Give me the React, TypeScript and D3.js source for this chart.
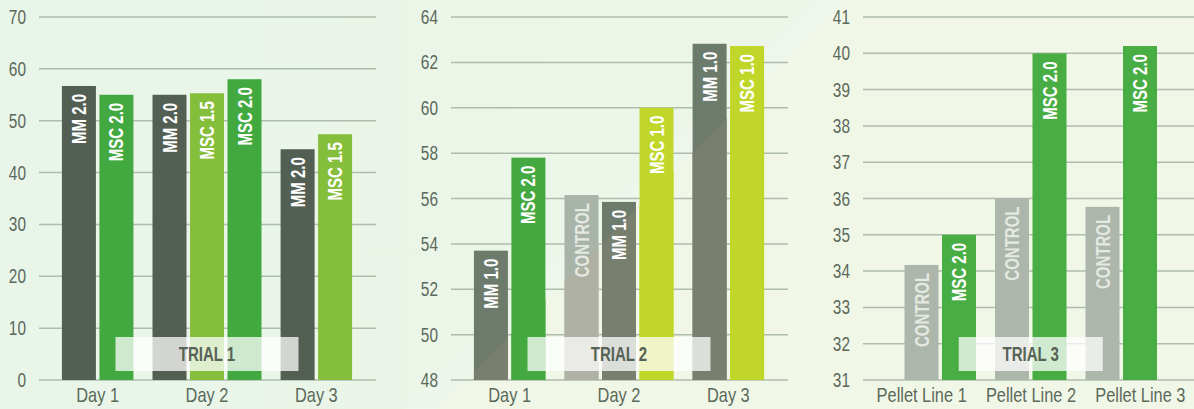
import React from "react";
import * as d3 from "d3";

// Trial 1
const trial1Groups = ["Day 1", "Day 2", "Day 3"];
const trial1Bars = [["MM 2.0", "MSC 2.0"], ["MM 2.0", "MSC 1.5", "MSC 2.0"], ["MM 2.0", "MSC 1.5"]];
const trial1Values = [[56.7, 55.0], [55.0, 55.3, 58.0], [44.5, 47.4]];
const trial1Ticks = [0, 10, 20, 30, 40, 50, 60, 70];

// Trial 2
const trial2Groups = ["Day 1", "Day 2", "Day 3"];
const trial2Bars = [["MM 1.0", "MSC 2.0"], ["CONTROL", "MM 1.0", "MSC 1.0"], ["MM 1.0", "MSC 1.0"]];
const trial2Values = [[53.7, 57.8], [56.15, 55.85, 60.0], [62.82, 62.72]];
const trial2Ticks = [48, 50, 52, 54, 56, 58, 60, 62, 64];

// Trial 3
const trial3Groups = ["Pellet Line 1", "Pellet Line 2", "Pellet Line 3"];
const trial3Bars = [["CONTROL", "MSC 2.0"], ["CONTROL", "MSC 2.0"], ["CONTROL", "MSC 2.0"]];
const trial3Values = [[34.17, 35.0], [36.0, 40.0], [35.77, 40.2]];
const trial3Ticks = [31, 32, 33, 34, 35, 36, 37, 38, 39, 40, 41];

const W = 1194;
const H = 409;
const top = 17;
const bottom = 380;
const barStep = 37.5;
const font = "'Liberation Sans', Arial, sans-serif";
// the original uses a condensed face; squeeze Liberation Sans horizontally
const squeeze = 0.79;

const panels = [
  {
    title: "TRIAL 1", groups: trial1Groups, bars: trial1Bars, values: trial1Values, ticks: trial1Ticks,
    x0: 39, x1: 376, barOff: [4, 332], boxW: 183,
    colors: { "MM 2.0": "#525f52", "MSC 2.0": "#41a93f", "MSC 1.5": "#85be3a" },
  },
  {
    title: "TRIAL 2", groups: trial2Groups, bars: trial2Bars, values: trial2Values, ticks: trial2Ticks,
    x0: 451, x1: 788, barOff: [4, 332], boxW: 183,
    colors: { "MM 1.0": "#6c7b6c", "MSC 2.0": "#43a940", "CONTROL": "#a9b4a9", "MSC 1.0": "#c0d72a" },
    tint: true,
  },
  {
    title: "TRIAL 3", groups: trial3Groups, bars: trial3Bars, values: trial3Values, ticks: trial3Ticks,
    x0: 863, x1: 1194, barOff: [32, 303.5], boxW: 144,
    colors: { "CONTROL": "#adb6ab", "MSC 2.0": "#48ad43" },
  },
];

const tintColor = (c: string) => d3.interpolateRgb(c, "#d09c80")(0.13);

function Txt({ x, y, rotate = 0, sx = squeeze, children, ...rest }: any) {
  return (
    <g transform={`translate(${x},${y}) rotate(${rotate}) scale(${sx},1)`}>
      <text fontFamily={font} {...rest}>{children}</text>
    </g>
  );
}

function Panel({ p }: { p: any }) {
  const y = d3.scaleLinear().domain([p.ticks[0], p.ticks[p.ticks.length - 1]]).range([bottom, top]);
  const xLabel = d3.scaleBand().domain(p.groups).range([p.x0 + 4, p.x0 + 332]);
  const xGroup = d3.scaleBand().domain(p.groups).range([p.x0 + p.barOff[0], p.x0 + p.barOff[1]]);

  const rects: any[] = [];
  p.groups.forEach((g: string, gi: number) => {
    const names = p.bars[gi];
    const n = names.length;
    const c = (xGroup(g) as number) + xGroup.bandwidth() / 2;
    const inner = d3.scaleBand<number>()
      .domain(d3.range(n))
      .range([c - (n * barStep) / 2, c + (n * barStep) / 2])
      .paddingInner(0.0933)
      .paddingOuter(0.0467);
    names.forEach((name: string, i: number) => {
      const v = p.values[gi][i];
      rects.push({
        key: `${gi}-${i}`, name, x: inner(i) as number, w: inner.bandwidth(),
        y: y(v), h: bottom - y(v), color: p.colors[name],
      });
    });
  });

  const mid = (xGroup(p.groups[1]) as number) + xGroup.bandwidth() / 2;

  return (
    <g>
      {p.ticks.map((t: number) => (
        <g key={t}>
          <line x1={p.x0} x2={p.x1} y1={y(t)} y2={y(t)} stroke="#aebdae" strokeWidth={1.5} />
          <Txt x={p.x0 - 13} y={y(t)} dy="0.36em" textAnchor="end" fontSize={19.5} fill="#5b695b">{t}</Txt>
        </g>
      ))}
      {rects.map((r) => (
        <rect key={r.key} x={r.x} y={r.y} width={r.w} height={r.h} fill={r.color} />
      ))}
      {p.tint && (
        <g clipPath="url(#tintClip)">
          {rects.map((r) => (
            <rect key={r.key} x={r.x} y={r.y} width={r.w} height={r.h}
              fill={r.name === "MM 1.0" || r.name === "CONTROL" ? tintColor(r.color) : r.color} />
          ))}
        </g>
      )}
      {rects.map((r) => (
        <Txt key={r.key} x={r.x + r.w / 2} y={r.y + 8} rotate={-90} sx={0.77}
          textAnchor="end" dy="0.36em" fontSize={19.5} fontWeight="bold"
          fill={r.name === "CONTROL" ? "#e4e9e2" : "#ffffff"}>{r.name}</Txt>
      ))}
      <rect x={mid - p.boxW / 2} y={337} width={p.boxW} height={34} fill="#ffffff" opacity={0.74} />
      <Txt x={mid} y={354} sx={0.77} dy="0.36em" textAnchor="middle" fontSize={19.5} fontWeight="bold"
        fill="#566356">{p.title}</Txt>
      {p.groups.map((g: string) => (
        <Txt key={g} x={(xLabel(g) as number) + xLabel.bandwidth() / 2} y={402} sx={0.82}
          textAnchor="middle" fontSize={20} fill="#5b695b">{g}</Txt>
      ))}
    </g>
  );
}

export default function App() {
  const cut = 845;
  return (
    <svg width={W} height={H} style={{ position: "absolute", left: 0, top: 0, display: "block" }}>
      <defs>
        <linearGradient id="bgGrad" x1="0" x2="1" y1="0" y2="0">
          <stop offset="0" stopColor="#e9f5e9" />
          <stop offset="1" stopColor="#eef6e8" />
        </linearGradient>
        <clipPath id="tintClip">
          <polygon points={`${cut},0 ${W},0 ${W},${H} ${cut - H},${H}`} />
        </clipPath>
      </defs>
      <rect width={W} height={H} fill="url(#bgGrad)" />
      <polygon points={`${cut},0 ${W},0 ${W},${H} ${cut - H},${H}`} fill="#f3f8e6" opacity={0.6} />
      <polygon points={`${cut - 30},0 ${cut},0 ${cut - H},${H} ${cut - 30 - H},${H}`} fill="#ffffff" opacity={0.14} />
      {panels.map((p) => (
        <Panel key={p.title} p={p} />
      ))}
    </svg>
  );
}
